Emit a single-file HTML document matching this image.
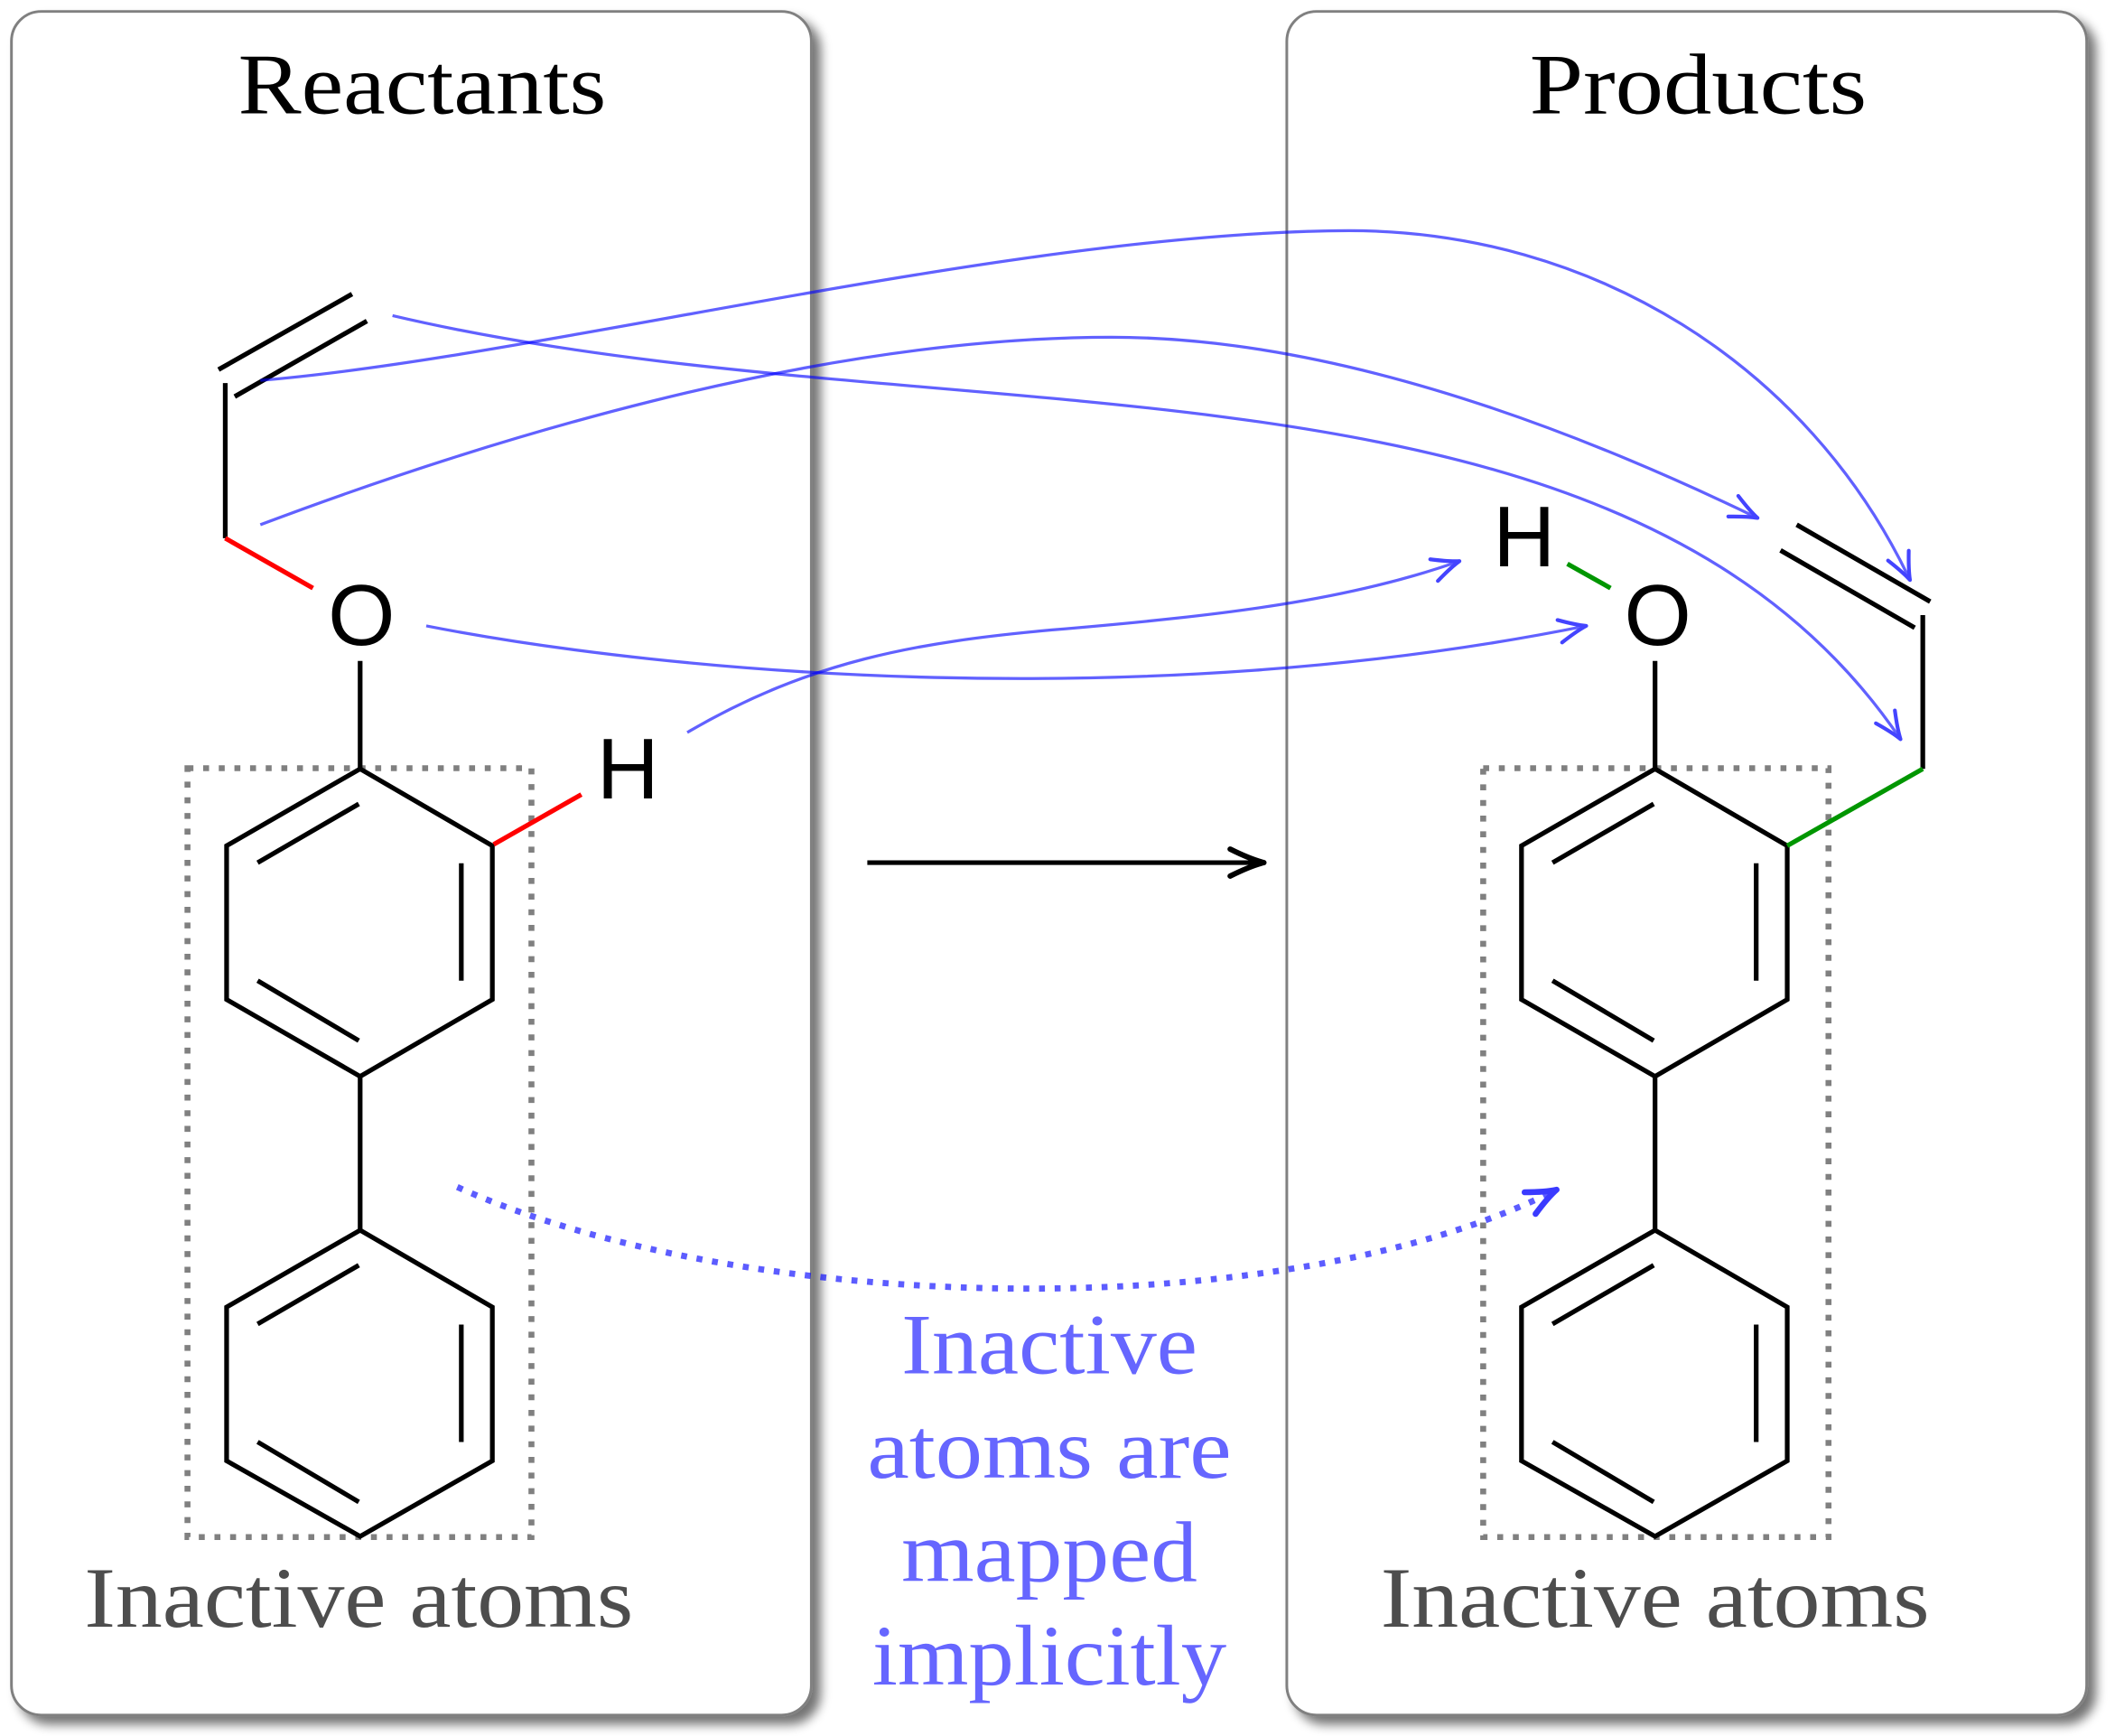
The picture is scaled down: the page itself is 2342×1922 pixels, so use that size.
<!DOCTYPE html>
<html>
<head>
<meta charset="utf-8">
<style>
  html, body { margin: 0; padding: 0; background: #ffffff; overflow: hidden; }
  svg { display: block; }
</style>
</head>
<body>
<svg xmlns="http://www.w3.org/2000/svg" width="2342" height="1922" viewBox="0 0 1568 1287" preserveAspectRatio="none">
  <defs>
    <filter id="sh" x="-5%" y="-5%" width="115%" height="115%">
      <feGaussianBlur in="SourceAlpha" stdDeviation="4"/>
      <feOffset dx="6" dy="6"/>
      <feComponentTransfer><feFuncA type="linear" slope="0.55"/></feComponentTransfer>
      <feMerge><feMergeNode/><feMergeNode in="SourceGraphic"/></feMerge>
    </filter>
    <marker id="ah" markerUnits="userSpaceOnUse" viewBox="-30 -15 35 30" markerWidth="35" markerHeight="30" refX="0" refY="0" orient="auto" overflow="visible">
      <path d="M-20,-8.5 Q-7,-2 0,0 Q-7,2 -20,8.5" fill="none" stroke="#4444ff" stroke-width="2.8" stroke-linecap="round" stroke-linejoin="round"/>
    </marker>
    <marker id="ahd" markerUnits="userSpaceOnUse" viewBox="-30 -15 35 30" markerWidth="35" markerHeight="30" refX="0" refY="0" orient="auto" overflow="visible">
      <path d="M-22,-9 Q-8,-2 0,0 Q-8,2 -22,9" fill="none" stroke="#3a3aff" stroke-width="4.4" stroke-linecap="round" stroke-linejoin="round"/>
    </marker>
  </defs>

  <!-- Boxes -->
  <rect x="8.5" y="8.5" width="593" height="1263" rx="22" ry="22" fill="#ffffff" stroke="#808080" stroke-width="2" filter="url(#sh)"/>
  <rect x="954" y="8.5" width="593" height="1263" rx="22" ry="22" fill="#ffffff" stroke="#808080" stroke-width="2" filter="url(#sh)"/>

  <!-- Titles -->
  <text x="313" y="84" font-family="'Liberation Serif', serif" font-size="64" text-anchor="middle" textLength="273" lengthAdjust="spacingAndGlyphs" fill="#000">Reactants</text>
  <text x="1259" y="84" font-family="'Liberation Serif', serif" font-size="64" text-anchor="middle" textLength="250" lengthAdjust="spacingAndGlyphs" fill="#000">Products</text>

  <!-- Dotted rectangles -->
  <rect x="139" y="569.5" width="255" height="570" fill="none" stroke="#808080" stroke-width="4.4" stroke-dasharray="4.4 7.2"/>
  <rect x="1099.6" y="569.5" width="256" height="570" fill="none" stroke="#808080" stroke-width="4.4" stroke-dasharray="4.4 7.2"/>

  <!-- Reactant molecule -->
  <g fill="none" stroke="#000" stroke-width="3.5" stroke-linecap="butt" stroke-linejoin="miter">
    <path d="M162,274 L261,218 M174,294 L272,238 M167,284 L167,399"/>
    <path d="M267,490 L267,570"/>
    <path d="M267,570 L365,627 L365,741 L267,798 L168,741 L168,627 Z"/>
    <path d="M191,639.6 L266,596 M342,640 L342,727 M191,727 L266,771.5"/>
    <path d="M267,798 L267,912"/>
    <path d="M267,912 L365,969 L365,1083 L267,1139 L168,1083 L168,969 Z"/>
    <path d="M191,981.6 L266,938 M342,982 L342,1069 M191,1069 L266,1113.5"/>
  </g>
  <g fill="none" stroke="#ff0000" stroke-width="3.5">
    <path d="M167,399 L232,436"/>
    <path d="M366,626 L431,589"/>
  </g>
  <text x="268" y="478" font-family="'Liberation Sans', sans-serif" font-size="64" text-anchor="middle" fill="#000">O</text>
  <text x="465.5" y="592" font-family="'Liberation Sans', sans-serif" font-size="64" text-anchor="middle" fill="#000">H</text>

  <!-- Product molecule -->
  <g fill="none" stroke="#000" stroke-width="3.5" stroke-linecap="butt" stroke-linejoin="miter">
    <g transform="translate(960,0)">
      <path d="M267,490 L267,570"/>
      <path d="M267,570 L365,627 L365,741 L267,798 L168,741 L168,627 Z"/>
      <path d="M191,639.6 L266,596 M342,640 L342,727 M191,727 L266,771.5"/>
      <path d="M267,798 L267,912"/>
      <path d="M267,912 L365,969 L365,1083 L267,1139 L168,1083 L168,969 Z"/>
      <path d="M191,981.6 L266,938 M342,982 L342,1069 M191,1069 L266,1113.5"/>
    </g>
    <path d="M1332,389 L1431,446 M1320,408 L1419.5,465.4 M1425.5,456 L1425.5,570"/>
  </g>
  <g fill="none" stroke="#009600" stroke-width="3.5">
    <path d="M1325,627 L1425.5,570"/>
    <path d="M1162,418 L1194,436"/>
  </g>
  <text x="1229" y="478" font-family="'Liberation Sans', sans-serif" font-size="64" text-anchor="middle" fill="#000">O</text>
  <text x="1130" y="420" font-family="'Liberation Sans', sans-serif" font-size="64" text-anchor="middle" fill="#000">H</text>

  <!-- Reaction arrow -->
  <path d="M643,639.5 L934,639.5" stroke="#000" stroke-width="3.4" fill="none"/>
  <path d="M912,629.5 Q927,637 937,639.5 Q927,642 912,649.5" stroke="#000" stroke-width="4" fill="none" stroke-linecap="round" stroke-linejoin="round"/>

  <!-- Mapping curves -->
  <g fill="none" stroke="#0000ff" stroke-opacity="0.62" stroke-width="2.2">
    <path d="M193,282 C400,265 750,172 1000,171 C1180,171 1340,270 1416,430" marker-end="url(#ah)"/>
    <path d="M291,234 C700,330 1200,240 1409,548" marker-end="url(#ah)"/>
    <path d="M193,389 C350,330 600,250 824,250 C980,250 1150,310 1303,384" marker-end="url(#ah)"/>
    <path d="M316,464 C500,500 850,530 1176,464" marker-end="url(#ah)"/>
    <path d="M509.5,543 C600,490 680,476 780,467 C910,456 1000,445 1082,416" marker-end="url(#ah)"/>
  </g>
  <path d="M339,880 C550,975 950,985 1154,882" fill="none" stroke="#0000ff" stroke-opacity="0.64" stroke-width="4.6" stroke-dasharray="4.4 7.2" marker-end="url(#ahd)"/>

  <!-- Labels -->
  <g font-family="'Liberation Serif', serif" font-size="64" text-anchor="middle">
    <text x="266" y="1206" fill="#4d4d4d" textLength="407" lengthAdjust="spacingAndGlyphs">Inactive atoms</text>
    <text x="1227" y="1206" fill="#4d4d4d" textLength="407" lengthAdjust="spacingAndGlyphs">Inactive atoms</text>
    <text x="778" y="1018" fill="#6666ff" textLength="219.5" lengthAdjust="spacingAndGlyphs">Inactive</text>
    <text x="778" y="1095.5" fill="#6666ff" textLength="270" lengthAdjust="spacingAndGlyphs">atoms are</text>
    <text x="778" y="1172" fill="#6666ff" textLength="219.5" lengthAdjust="spacingAndGlyphs">mapped</text>
    <text x="778" y="1249" fill="#6666ff" textLength="262.6" lengthAdjust="spacingAndGlyphs">implicitly</text>
  </g>
</svg>
</body>
</html>
